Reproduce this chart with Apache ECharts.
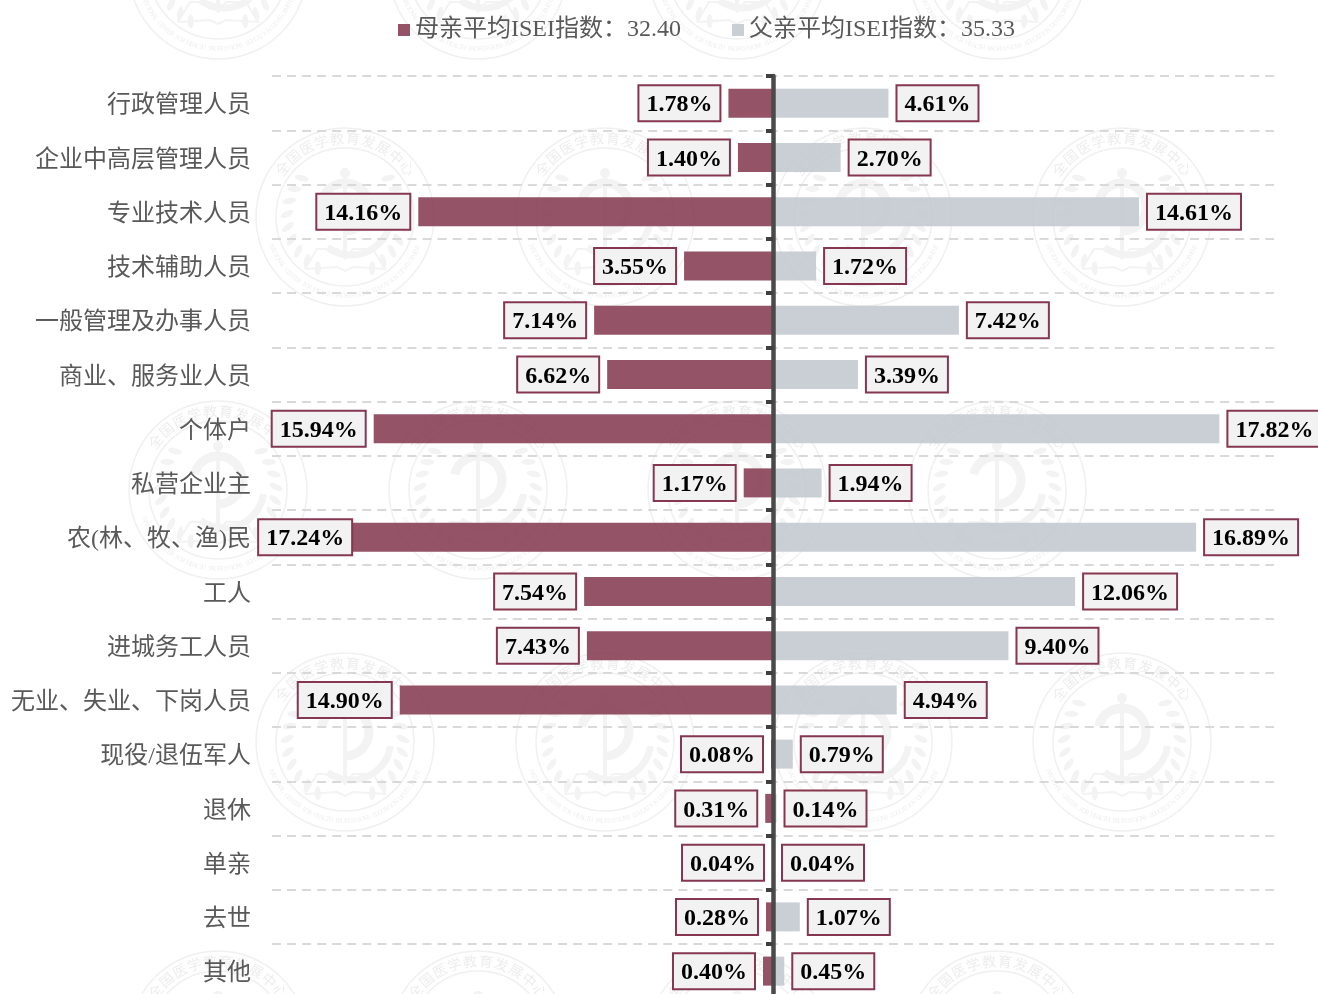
<!DOCTYPE html>
<html><head><meta charset="utf-8">
<style>html,body{margin:0;padding:0;background:#fff;overflow:hidden}#c{width:1318px;height:994px}</style>
<script src="https://cdn.jsdelivr.net/npm/echarts@6/dist/echarts.min.js"></script>
</head><body><div id="c"></div>
<script>
const categories = ['行政管理人员','企业中高层管理人员','专业技术人员','技术辅助人员','一般管理及办事人员','商业、服务业人员','个体户','私营企业主','农(林、牧、渔)民','工人','进城务工人员','无业、失业、下岗人员','现役/退伍军人','退休','单亲','去世','其他'];
const motherValues = [1.78,1.40,14.16,3.55,7.14,6.62,15.94,1.17,17.24,7.54,7.43,14.90,0.08,0.31,0.04,0.28,0.40];
const fatherValues = [4.61,2.70,14.61,1.72,7.42,3.39,17.82,1.94,16.89,12.06,9.40,4.94,0.79,0.14,0.04,1.07,0.45];
const motherName = '母亲平均ISEI指数：32.40';
const fatherName = '父亲平均ISEI指数：35.33';

const FONT = '"Liberation Serif","Noto Sans CJK SC",serif';
const MOTHER = 'rgba(129,53,75,0.85)', FATHER = 'rgba(193,199,206,0.85)', BORDER = '#85374f', TEXT = '#595959';

/* faint repeated emblem watermark behind the chart */
const WM = '#f3f3f3';
function emblem(cx, cy) {
  const ch = [];
  const s = {stroke: '#f0f0f0', fill: null, lineWidth: 1.5};
  ch.push({type:'circle', shape:{cx:0,cy:0,r:89}, style:s, silent:true, z:-1});
  ch.push({type:'circle', shape:{cx:0,cy:0,r:69}, style:s, silent:true, z:-1});
  const top = '全国医学教育发展中心';
  [...top].forEach((t,i)=>{
    const a = (-52 + i*104/(top.length-1)) * Math.PI/180;
    ch.push({type:'text', x:79*Math.sin(a), y:-79*Math.cos(a), rotation:-a, silent:true, z:-1,
      style:{text:t, fill:'#ededed', font:'14px "Noto Sans CJK SC"', align:'center', verticalAlign:'middle'}});
  });
  const bot = 'NATIONAL CENTER FOR HEALTH PROFESSIONS EDUCATION DEVELOPMENT';
  [...bot].forEach((t,i)=>{
    const b = (112 + i*136/(bot.length-1)) * Math.PI/180;
    ch.push({type:'text', x:79*Math.sin(-b), y:-79*Math.cos(b), rotation:Math.PI+b, silent:true, z:-1,
      style:{text:t, fill:'#f0f0f0', font:'7px "Liberation Serif"', align:'center', verticalAlign:'middle'}});
  });
  [-1,1].forEach(d=>{
    for (let k=0;k<9;k++){
      const a=(48+k*13)*Math.PI/180;
      ch.push({type:'ellipse', shape:{cx:0,cy:0,rx:3,ry:7}, x:d*58*Math.sin(a), y:-58*Math.cos(a),
        rotation:-d*(a+0.5), style:{fill:WM}, silent:true, z:-1});
    }
  });
  ch.push({type:'rect', shape:{x:-2,y:-48,width:4,height:86}, style:{fill:WM}, silent:true, z:-1});
  ch.push({type:'circle', shape:{cx:0,cy:-44,r:5}, style:{fill:WM}, silent:true, z:-1});
  ch.push({type:'arc', shape:{cx:0,cy:-10,r:24,startAngle:-2.9,endAngle:1.6,clockwise:true},
    style:{stroke:WM,fill:null,lineWidth:9}, silent:true, z:-1});
  ch.push({type:'arc', shape:{cx:6,cy:-2,r:40,startAngle:0.15,endAngle:2.2,clockwise:true},
    style:{stroke:WM,fill:null,lineWidth:7}, silent:true, z:-1});
  ch.push({type:'polyline', shape:{points:[[-40,52],[-28,32],[-8,32],[0,42],[8,32],[28,32],[40,52],[8,50],[0,54],[-8,50],[-40,52]]},
    style:{stroke:WM,fill:null,lineWidth:2}, silent:true, z:-1});
  return {type:'group', x:cx, y:cy, silent:true, children:ch};
}
const emblemCentres = [[218,-30],[478,-30],[737,-30],[997,-30],
  [345,217],[605,217],[863,217],[1122,217],
  [218,490],[478,490],[737,490],[997,490],
  [345,742],[605,742],[863,742],[1122,742],
  [218,1040],[478,1040],[737,1040],[997,1040]];

const label = {
  show:true, distance:9, backgroundColor:'#f2f2f2', borderColor:BORDER, borderWidth:2,
  padding:[7,7,7,7],
  formatter:p=>'{a|'+Math.abs(p.value).toFixed(2)+'%}',
  rich:{a:{fontFamily:'"Liberation Serif"', fontWeight:'bold', fontSize:24, color:'#000',
           lineHeight:20, padding:[4,0,0,0]}}
};
const LONGEST = Math.max(...motherValues);

const axisBase = {type:'category', inverse:true, data:categories, z:5,
  axisLine:{show:true, onZero:true, lineStyle:{color:'#4a4a4a', width:4.5}}};

const chart = echarts.init(document.getElementById('c'), null, {renderer:'canvas', width:1318, height:994});
chart.setOption({
  animation:false,
  backgroundColor:'#fff',
  graphic:{elements:emblemCentres.map(c=>emblem(c[0],c[1]))},
  legend:{
    left:393, top:13, icon:'rect', itemWidth:12, itemHeight:12, itemGap:51, selectedMode:false,
    textStyle:{fontFamily:FONT, fontSize:24, color:TEXT},
    data:[motherName, fatherName]
  },
  grid:{left:272, top:76, width:1002, height:922.25, outerBoundsMode:'none'},
  xAxis:{type:'value', min:-20, max:20, show:false, splitLine:{show:false}},
  yAxis:[
    Object.assign({}, axisBase, {
      axisTick:{show:true, length:7, lineStyle:{color:'#404040', width:4}},
      axisLabel:{margin:21, fontFamily:FONT, fontSize:24, color:TEXT, align:'right', verticalAlign:'top', lineHeight:6},
      splitLine:{show:true, lineStyle:{color:'#d9d9d9', width:2, type:[9,6.05]}}
    }),
    Object.assign({}, axisBase, {
      axisLine:{show:false, onZero:true, onZeroAxisIndex:0},
      axisTick:{show:true, inside:true, length:7, lineStyle:{color:'#404040', width:4}},
      axisLabel:{show:false}, splitLine:{show:false}
    })
  ],
  series:[
    {name:motherName, type:'bar', barWidth:29, barGap:'-100%',
     itemStyle:{color:MOTHER},
     label:Object.assign({}, label, {position:'left'}),
     data:motherValues.map(v=> v===LONGEST
        ? {value:-v, label:{offset:[19,0]}}
        : -v)},
    {name:fatherName, type:'bar', barWidth:29, barGap:'-100%',
     itemStyle:{color:FATHER},
     label:Object.assign({}, label, {position:'right'}),
     data:fatherValues}
  ]
});
</script></body></html>
